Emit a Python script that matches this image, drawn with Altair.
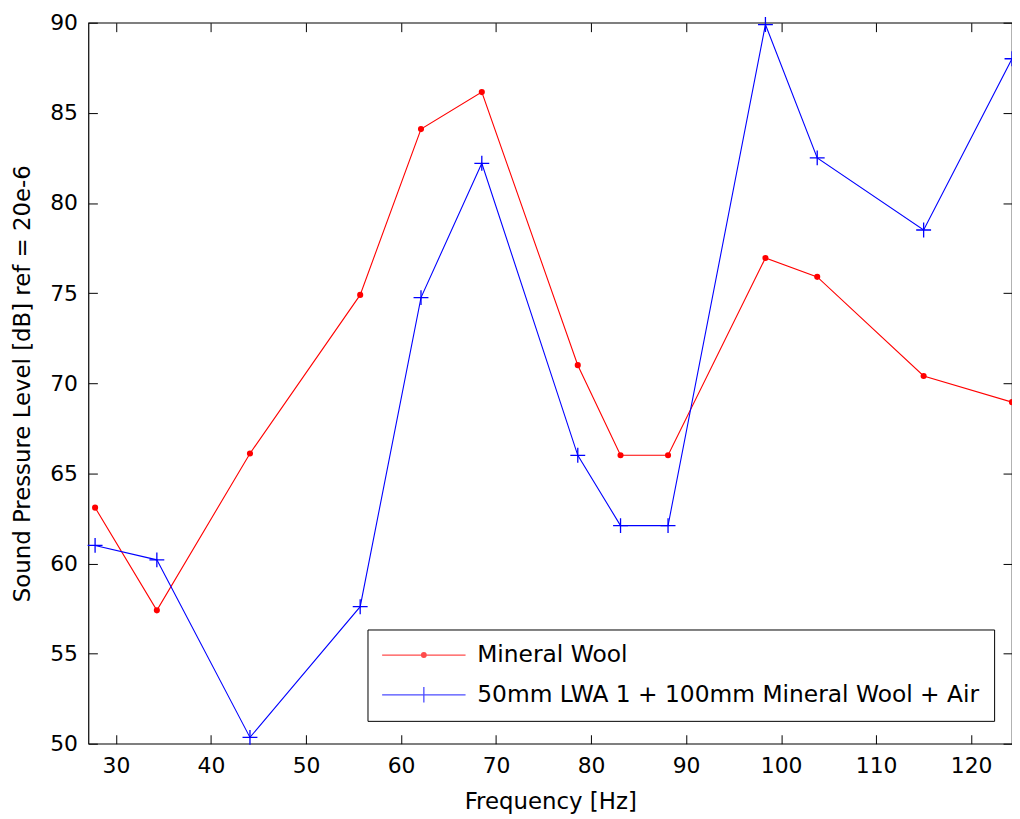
import altair as alt
import pandas as pd

# ---- data ----
freq = [27.8, 34.3, 44.1, 55.7, 62.1, 68.5, 78.6, 83.1, 88.1, 98.35, 103.8, 115.0, 124.3]
mineral_wool = [63.1, 57.4, 66.1, 74.9, 84.1, 86.15, 71.0, 66.0, 66.0, 76.95, 75.9, 70.4, 68.95]
lwa_air = [61.0, 60.2, 50.35, 57.6, 74.75, 82.2, 66.0, 62.1, 62.1, 89.9, 82.5, 78.5, 88.0]
series_names = ["Mineral Wool", "50mm LWA 1 + 100mm Mineral Wool + Air"]
x_ticks = [30, 40, 50, 60, 70, 80, 90, 100, 110, 120]
y_ticks = [50, 55, 60, 65, 70, 75, 80, 85, 90]

rows = []
for f, a, b in zip(freq, mineral_wool, lwa_air):
    rows.append({"freq": f, "spl": a, "series": series_names[0]})
    rows.append({"freq": f, "spl": b, "series": series_names[1]})
df = pd.DataFrame(rows)

W, H = 930, 726
FONT = "DejaVu Sans"
RED = "#ff0000"
BLUE = "#0000ff"

xs = alt.Scale(domain=[27.1, 124.3], nice=False, zero=False)
ys = alt.Scale(domain=[50, 90], nice=False, zero=False)

# axes carrying labels and titles (no ticks)
x_label_axis = alt.Axis(orient="bottom", values=x_ticks, ticks=False, tickSize=0, domain=False,
                        grid=False, labelPadding=12, labelFont=FONT, labelFontSize=22,
                        labelColor="black", title="Frequency [Hz]", titleFont=FONT,
                        titleFontSize=23, titleFontWeight="normal", titleColor="black",
                        titlePadding=14)
y_label_axis = alt.Axis(orient="left", values=y_ticks, ticks=False, tickSize=0, domain=False,
                        grid=False, labelPadding=11, labelFont=FONT, labelFontSize=22,
                        labelColor="black", title="Sound Pressure Level [dB] ref = 20e-6",
                        titleFont=FONT, titleFontSize=23, titleFontWeight="normal",
                        titleColor="black", titlePadding=15)


def tick_axis(orient, values, offset):
    return alt.Axis(orient=orient, values=values, offset=offset, labels=False, domain=False,
                    grid=False, ticks=True, tickSize=9, tickColor="black", tickWidth=1,
                    title=None)


base = alt.Chart(df)
is_red = alt.datum.series == series_names[0]
is_blue = alt.datum.series == series_names[1]

red_line = base.transform_filter(is_red).mark_line(color=RED, strokeWidth=1.1).encode(
    x=alt.X("freq:Q", scale=xs, axis=x_label_axis),
    y=alt.Y("spl:Q", scale=ys, axis=y_label_axis),
)
blue_line = base.transform_filter(is_blue).mark_line(color=BLUE, strokeWidth=1.1).encode(
    x=alt.X("freq:Q", scale=xs, axis=None),
    y=alt.Y("spl:Q", scale=ys, axis=None),
)
red_pts = base.transform_filter(is_red).mark_point(
    shape="circle", filled=True, color=RED, size=38, opacity=1
).encode(
    x=alt.X("freq:Q", scale=xs, axis=tick_axis("top", x_ticks, -H)),
    y=alt.Y("spl:Q", scale=ys, axis=tick_axis("right", y_ticks, -W)),
)
blue_pts = base.transform_filter(is_blue).mark_point(
    shape="M-1,0L1,0M0,-1L0,1", filled=False, color=BLUE, size=225, strokeWidth=1.3, opacity=1
).encode(
    x=alt.X("freq:Q", scale=xs, axis=tick_axis("bottom", x_ticks, -H)),
    y=alt.Y("spl:Q", scale=ys, axis=tick_axis("left", y_ticks, -W)),
)

legend_def = alt.Legend(
    title=None, orient="none", legendX=281, legendY=611, direction="vertical",
    fillColor="white", strokeColor="black", padding=14, cornerRadius=0,
    labelFont=FONT, labelFontSize=23.5, labelColor="black", labelLimit=1000,
    symbolSize=441, symbolStrokeWidth=1.3, symbolOffset=31, labelOffset=42,
    rowPadding=15,
)
legend_layer = base.transform_filter("datum.freq < 0").mark_point(filled=False, strokeWidth=1.3).encode(
    x=alt.X("freq:Q", scale=xs, axis=None),
    y=alt.Y("spl:Q", scale=ys, axis=None),
    color=alt.Color("series:N", scale=alt.Scale(domain=series_names, range=[RED, BLUE]),
                    legend=legend_def),
    shape=alt.Shape("series:N", scale=alt.Scale(
        domain=series_names,
        range=["M-4,0L4,0M-0.22,0A0.22,0.22,0,1,0,0.22,0A0.22,0.22,0,1,0,-0.22,0M-0.1,0A0.1,0.1,0,1,0,0.1,0A0.1,0.1,0,1,0,-0.1,0",
               "M-4,0L4,0M0,-0.75L0,0.75"]),
        legend=legend_def),
)

chart = alt.layer(red_line, blue_line, red_pts, blue_pts, legend_layer).resolve_axis(
    x="independent", y="independent"
).properties(
    width=W, height=H,
    autosize=alt.AutoSizeParams(type="none"),
    padding={"left": 81, "top": 12, "right": 0, "bottom": 72},
    background="white",
).configure_view(stroke="black", strokeWidth=1.2)

chart.save("out.html", embed_options={"renderer": "svg", "actions": False})
